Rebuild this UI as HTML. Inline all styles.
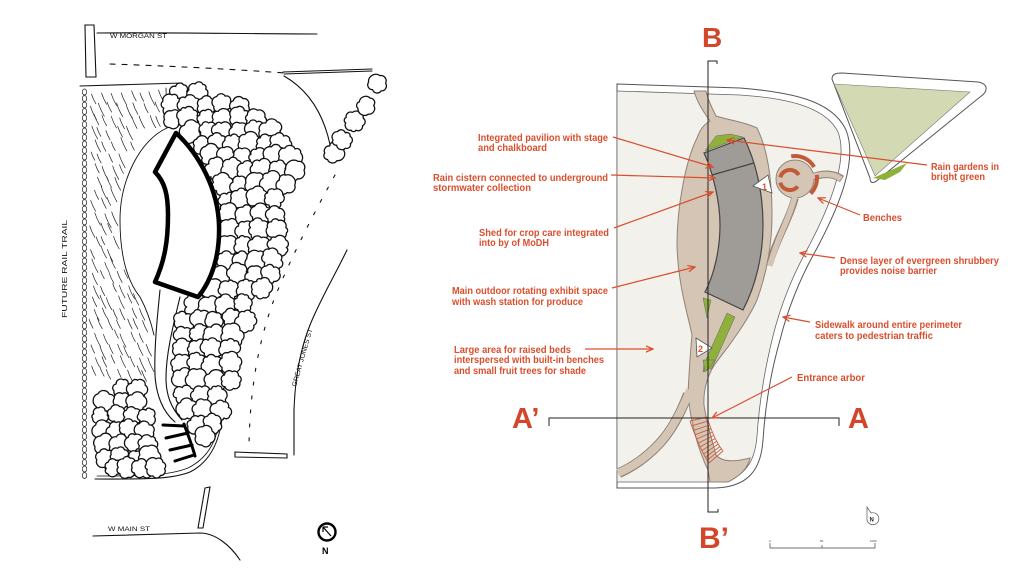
<!DOCTYPE html>
<html><head><meta charset="utf-8">
<style>
html,body{margin:0;padding:0;background:#fff;width:1024px;height:581px;overflow:hidden;}
svg{display:block;}
.lbl{font-family:"Liberation Sans",Arial,sans-serif;font-weight:bold;font-size:10px;fill:#d94f2e;}
.big{font-family:"Liberation Sans",Arial,sans-serif;font-weight:bold;fill:#d4462a;}
.hand{font-family:"Liberation Sans",Arial,sans-serif;font-size:6.5px;fill:#111;}
</style></head><body>
<svg width="1024" height="581" viewBox="0 0 1024 581" xmlns="http://www.w3.org/2000/svg">
<defs>
<marker id="ar" viewBox="0 0 10 10" refX="9" refY="5" markerWidth="8" markerHeight="8" markerUnits="userSpaceOnUse" orient="auto"><path d="M0,1 L9,5 L0,9" fill="none" stroke="#d94f2e" stroke-width="1.6"/></marker>
</defs>
<rect width="1024" height="581" fill="#fff"/>

<!-- ===== LEFT SKETCH ===== -->
<g id="hatch" fill="none" stroke="#222" stroke-width="0.7" stroke-linecap="round"></g>
<g id="scal" fill="none" stroke="#222" stroke-width="0.7"></g>
<g fill="none" stroke="#111" stroke-width="1.1" stroke-linecap="round">
<path d="M85,25 L94,25 L96,77 L86,77 Z"/>
<path d="M97,33 C160,32 250,34 317,34"/>
<path d="M110,64 C170,66 230,69 285,73" stroke-dasharray="5,7"/>
<path d="M283,72 L372,69 M284,74 L372,71"/>
<path d="M284,76 Q326,100 333,163"/>
<path d="M80,86 L182,83"/>
<path d="M166,88 L167,128" stroke-width="0.8"/>
<path d="M167,128 C140,140 120,180 120,220 C120,258 128,282 140,297 C147,310 151,322 154,335" stroke-width="0.9"/>
<path d="M160,290 C157,320 154,350 155,375 C156,395 163,412 175,422"/>
<path d="M180,297 C172,330 166,355 166,378 C166,395 171,408 182,420"/>
<path d="M223,405 C222,440 210,462 190,472 C170,480 140,479 95,479"/>
<path d="M220,410 C219,440 208,458 188,468 C168,476 140,476 97,476" stroke-width="0.8"/>
<path d="M347,250 C335,275 320,300 310,325 C300,350 295,380 294,410 L294,455"/>
<path d="M335,175 C310,220 285,270 272,305 C258,345 250,390 249,445" stroke-dasharray="3,11"/>
<path d="M235,452 L287,454 L287,458 L235,457 Z"/>
<path d="M205,488 L210,487 L203,528 L198,528 Z"/>
<path d="M93,536 L200,533 C215,533 230,545 240,560"/>
</g>
<g id="blobs" fill="#fff" stroke="#111" stroke-width="1.3" stroke-linejoin="round"></g>
<path d="M176,133 C200,155 218,190 219,225 C220,255 212,280 198,297 L155,282 C165,260 168,240 168,215 C168,195 165,182 155,172 Z" fill="#fff" stroke="#000" stroke-width="4.5" stroke-linejoin="round"/>
<g stroke="#000" stroke-width="3" stroke-linecap="round" fill="none">
<path d="M163,425 L184,426"/>
<path d="M166,438 L188,433"/>
<path d="M170,450 L192,445"/>
<path d="M175,461 L194,455"/>
<path d="M184,424 C188,435 192,445 195,456"/>
</g>
<text x="110" y="38" class="hand" textLength="57" lengthAdjust="spacingAndGlyphs">W MORGAN ST</text>
<text x="108" y="531" class="hand" textLength="42" lengthAdjust="spacingAndGlyphs">W MAIN ST</text>
<text transform="translate(296,387) rotate(-74)" class="hand" textLength="60" lengthAdjust="spacingAndGlyphs">GREAT JONES ST</text>
<text transform="translate(67,318) rotate(-90)" class="hand" style="font-size:7px" textLength="98" lengthAdjust="spacingAndGlyphs">FUTURE RAIL TRAIL</text>
<circle cx="327" cy="532" r="8.5" fill="none" stroke="#000" stroke-width="2.4"/>
<path d="M331,536 L323,527 M323,527 L323,532 M323,527 L328,527" stroke="#000" stroke-width="1.2" fill="none"/>
<text x="322" y="554" style="font-family:'Liberation Sans',sans-serif;font-weight:bold;font-size:9px" fill="#000">N</text>

<!-- ===== RIGHT PLAN ===== -->
<path d="M617,84 L740,88 C790,92 832,100 846,130 C858,160 840,205 816,250 C798,282 787,312 780,340 C770,375 765,410 763,440 C761,470 748,487 715,488 L617,488 Z" fill="#fff" stroke="#555" stroke-width="1"/>
<path d="M617,91 L740,95 C785,98 825,106 838,132 C848,158 832,202 809,246 C791,278 780,308 773,336 C764,372 759,406 757,436 C755,463 743,481 715,482 L617,482 Z" fill="#f2f1ec" stroke="#666" stroke-width="0.8"/>

<!-- triangle island -->
<path d="M832,79 C832,74 836,73 842,73 L978,82 C989,84 988,92 980,97 L880,178 C874,184 870,184 870,178 Z" fill="#fff" stroke="#555" stroke-width="1"/>
<path d="M834,84 L970,92 L875,176 C864,150 848,115 834,84 Z" fill="#d3dab3" stroke="#777" stroke-width="0.6"/>
<path d="M873,178 L880,175 L907,163 L900,172 L885,180 Z" fill="#8fb03a"/>

<!-- path outlines -->
<g fill="none" stroke="#8f8378" stroke-linecap="butt">
<path d="M770,262 C776,240 790,218 795,198" stroke-width="7.5"/>
<path d="M810,178 C822,173 833,173 842,179" stroke-width="7.5"/>
<path d="M688,394 C680,415 670,432 660,443 C648,456 635,466 619,473" stroke-width="10"/>
</g>
<path d="M694,91 C698,105 706,115 710,121 C703,125 700,130 697,138 C686,160 677,205 677,245 C678,285 688,315 692,335 C690,355 689,375 688,393 C690,420 698,450 708,470 L710,482 L728,482 C740,476 748,468 750,458 C735,462 722,462 716,455 C712,440 706,420 704,405 C703,390 708,372 718,360 C730,345 748,320 757,300 C766,275 772,245 772,215 C772,180 768,150 757,128 C745,122 728,120 716,116 C712,108 708,100 706,91 Z" fill="#d5c5b5" stroke="#8f8378" stroke-width="1"/>
<circle cx="795" cy="179" r="19" fill="#d5c5b5" stroke="#8f8378" stroke-width="1"/>
<g fill="none" stroke="#d5c5b5" stroke-linecap="butt">
<path d="M770,266 C776,240 790,218 795,196" stroke-width="5.5"/>
<path d="M808,178 C822,173 833,173 841,179" stroke-width="5.5"/>
<path d="M690,390 C680,415 670,432 660,443 C648,456 635,466 618,473" stroke-width="8"/>
</g>
<!-- benches -->
<g fill="none" stroke="#c25a38" stroke-width="4">
<path d="M798.7,175 A10,10 0 0,0 780.3,177.4"/>
<path d="M780.3,182.6 A10,10 0 0,0 797.7,186.4"/>
<path d="M791.2,156.3 A22,22 0 0,1 814.1,167"/>
<path d="M816.8,174.9 A22,22 0 0,1 810.6,193.6"/>
</g>

<!-- arbor -->
<g id="arbor" fill="none" stroke="#c8603e" stroke-width="0.9">
<path d="M690,421 Q699,448 709,463"/>
<path d="M707,417 Q714,440 723,451"/>
</g>

<!-- pavilion -->
<path d="M704,153 L744,138 C755,160 763,190 763,225 C763,255 756,285 743,310 L705,292 C714,275 720,250 720,225 C720,200 712,170 704,153 Z" fill="#9f9c97" stroke="#444" stroke-width="1.2"/>
<path d="M712,175 L754,163" stroke="#444" stroke-width="1.2"/>
<!-- green -->
<g fill="#8fb03a" stroke="#666" stroke-width="0.5">
<path d="M705,151 L716,136 L730,134 L743,137 Z"/>
<path d="M703,298 L711,300 L707,318 Z"/>
<path d="M727,313 L735,317 L712,368 L703,372 L704,364 Z"/>
<path d="M703,360 L715,360 L705,372 Z"/>
</g>
<!-- markers -->
<path d="M753,186 L768,175 L772,193 Z" fill="#fff" stroke="#555" stroke-width="0.8"/>
<text x="762" y="190" class="lbl" style="font-size:9px">1</text>
<path d="M696,338 L712,348 L697,357 Z" fill="#fff" stroke="#555" stroke-width="0.8"/>
<text x="698" y="352" class="lbl" style="font-size:9px">2</text>

<!-- section lines -->
<g fill="none" stroke="#222" stroke-width="1">
<path d="M717,64 L717,61 L708,61 L708,512 L718,512 L718,509"/>
<path d="M549,426 L549,418 L839,418 L839,426"/>
</g>
<text x="702" y="47" class="big" style="font-size:28px">B</text>
<text x="699" y="548" class="big" style="font-size:30px">B’</text>
<text x="512" y="428" class="big" style="font-size:29px">A’</text>
<text x="848" y="428" class="big" style="font-size:29px">A</text>

<!-- arrows -->
<g stroke="#d94f2e" stroke-width="1.2" fill="none" marker-end="url(#ar)">
<path d="M613,137 L713,167"/>
<path d="M611,175 L715,178"/>
<path d="M614,228 L713,192"/>
<path d="M612,288 L695,267"/>
<path d="M585,349 L653,349"/>
<path d="M927,165 L727,140"/>
<path d="M860,215 L818,198"/>
<path d="M835,258 L800,253"/>
<path d="M810,322 L783,317"/>
<path d="M792,377 L712,418"/>
</g>

<!-- labels -->
<text class="lbl" x="478" y="141" textLength="130" lengthAdjust="spacingAndGlyphs">Integrated pavilion with stage</text>
<text class="lbl" x="478" y="151" textLength="69" lengthAdjust="spacingAndGlyphs">and chalkboard</text>
<text class="lbl" x="433" y="181" textLength="175" lengthAdjust="spacingAndGlyphs">Rain cistern connected to underground</text>
<text class="lbl" x="433" y="191" textLength="98" lengthAdjust="spacingAndGlyphs">stormwater collection</text>
<text class="lbl" x="479" y="236" textLength="130" lengthAdjust="spacingAndGlyphs">Shed for crop care integrated</text>
<text class="lbl" x="479" y="246" textLength="70" lengthAdjust="spacingAndGlyphs">into by of MoDH</text>
<text class="lbl" x="452" y="294" textLength="156" lengthAdjust="spacingAndGlyphs">Main outdoor rotating exhibit space</text>
<text class="lbl" x="452" y="305" textLength="131" lengthAdjust="spacingAndGlyphs">with wash station for produce</text>
<text class="lbl" x="454" y="353" textLength="117" lengthAdjust="spacingAndGlyphs">Large area for raised beds</text>
<text class="lbl" x="454" y="363" textLength="150" lengthAdjust="spacingAndGlyphs">interspersed with built-in benches</text>
<text class="lbl" x="454" y="374" textLength="132" lengthAdjust="spacingAndGlyphs">and small fruit trees for shade</text>
<text class="lbl" x="931" y="170" textLength="68" lengthAdjust="spacingAndGlyphs">Rain gardens in</text>
<text class="lbl" x="931" y="180" textLength="54" lengthAdjust="spacingAndGlyphs">bright green</text>
<text class="lbl" x="863" y="221" textLength="39" lengthAdjust="spacingAndGlyphs">Benches</text>
<text class="lbl" x="840" y="264" textLength="159" lengthAdjust="spacingAndGlyphs">Dense layer of evergreen shrubbery</text>
<text class="lbl" x="840" y="274" textLength="97" lengthAdjust="spacingAndGlyphs">provides noise barrier</text>
<text class="lbl" x="815" y="328" textLength="147" lengthAdjust="spacingAndGlyphs">Sidewalk around entire perimeter</text>
<text class="lbl" x="815" y="339" textLength="118" lengthAdjust="spacingAndGlyphs">caters to pedestrian traffic</text>
<text class="lbl" x="797" y="381" textLength="68" lengthAdjust="spacingAndGlyphs">Entrance arbor</text>

<!-- scale bar & north -->
<g stroke="#444" stroke-width="0.7" fill="none">
<path d="M770,543 L770,548 L875,548 L875,543 M822,545 L822,548"/>
</g>
<text x="769" y="542" style="font-family:'Liberation Sans',sans-serif;font-size:3px" fill="#444">0</text>
<text x="820" y="542" style="font-family:'Liberation Sans',sans-serif;font-size:3px" fill="#444">50</text>
<text x="870" y="542" style="font-family:'Liberation Sans',sans-serif;font-size:3px" fill="#444">100ft</text>
<path d="M867,507 L871,513 A6,6 0 1,1 867,520 Z" fill="#fff" stroke="#555" stroke-width="0.7"/>
<text x="869.5" y="521.5" style="font-family:'Liberation Sans',sans-serif;font-weight:bold;font-size:6px" fill="#222">N</text>
</svg>
<script>
(function(){
var NS='http://www.w3.org/2000/svg';
var s=7;function R(){s=(s*16807)%2147483647;return (s-1)/2147483646;}
function el(tag,attrs,parent){var e=document.createElementNS(NS,tag);for(var k in attrs)e.setAttribute(k,attrs[k]);parent.appendChild(e);return e;}
var hg=document.getElementById('hatch');
var poly=[[89,90],[164,88],[165,128],[142,143],[124,178],[118,222],[122,265],[135,290],[150,305],[154,335],[155,380],[140,385],[98,385],[89,385]];
function inside(x,y){var c=false;for(var i=0,j=poly.length-1;i<poly.length;j=i++){var xi=poly[i][0],yi=poly[i][1],xj=poly[j][0],yj=poly[j][1];if(((yi>y)!=(yj>y))&&(x<(xj-xi)*(y-yi)/(yj-yi)+xi))c=!c;}return c;}
var row=0;
for(var y=92;y<385;y+=12){row++;for(var x=90;x<166;x+=9){var px=x+R()*5-2.5+(row%2)*4,py=y+R()*5-2.5;var L=8+R()*6;if(inside(px,py)&&inside(px+L*0.45,py+L)){el('path',{d:'M'+px.toFixed(1)+','+py.toFixed(1)+' q'+(L*0.15).toFixed(1)+','+(L*0.5).toFixed(1)+' '+(L*0.45).toFixed(1)+','+L.toFixed(1)},hg);}}}
var sg=document.getElementById('scal');
for(var yy=89;yy<474;yy+=6.5){el('ellipse',{cx:84.5,cy:(yy+3).toFixed(1),rx:2.2,ry:3},sg);}
var bg=document.getElementById('blobs');
function blob(cx,cy,r){var n=5+Math.floor(R()*3),a0=R()*6.283,pts=[];for(var i=0;i<n;i++){var a=a0+i*6.283/n+(R()-0.5)*0.5,rr=r*(0.82+R()*0.3);pts.push([cx+rr*Math.cos(a),cy+rr*Math.sin(a)]);}var d='M'+pts[0][0].toFixed(1)+','+pts[0][1].toFixed(1);for(var i=0;i<n;i++){var p=pts[i],q=pts[(i+1)%n],ch=Math.sqrt((q[0]-p[0])*(q[0]-p[0])+(q[1]-p[1])*(q[1]-p[1])),ar=ch*0.56;d+=' A'+ar.toFixed(1)+','+ar.toFixed(1)+' 0 0 1 '+q[0].toFixed(1)+','+q[1].toFixed(1);}el('path',{d:d+'Z'},bg);}
var rows=[[92,180,205],[105,174,240],[118,174,262],[131,192,275],[144,202,290],[157,210,293],[170,215,296],[185,223,292],[200,227,290],[215,229,287],[230,229,284],[245,229,281],[260,226,277],[275,221,271],[290,213,262],[305,194,255],[320,184,248],[335,182,242],[350,181,238],[365,181,235],[380,182,232],[395,184,230],[410,188,228],[424,196,222],[436,204,214]];
rows.forEach(function(r){var y=r[0];for(var x=r[1];x<=r[2];x+=16){blob(x+R()*4-2,y+R()*4-2,8.5+R()*2);}});
var rows2=[[388,122,148],[402,107,150],[416,101,152],[430,101,156],[444,103,158],[458,105,160],[468,112,158]];
rows2.forEach(function(r){var y=r[0];for(var x=r[1];x<=r[2];x+=15){blob(x+R()*4-2,y+R()*4-2,8+R()*1.8);}});
[[334,152],[343,140],[354,122],[366,106],[378,84]].forEach(function(c){blob(c[0],c[1],9);});
var ag=document.getElementById('arbor');
function qb(p0,p1,p2,t){var u=1-t;return [u*u*p0[0]+2*u*t*p1[0]+t*t*p2[0],u*u*p0[1]+2*u*t*p1[1]+t*t*p2[1]];}
for(var i=0;i<=11;i++){var t=i/11,a=qb([690,421],[699,448],[709,463],t),b=qb([707,417],[714,440],[723,451],t);el('line',{x1:a[0].toFixed(1),y1:a[1].toFixed(1),x2:b[0].toFixed(1),y2:b[1].toFixed(1)},ag);}
})();
</script>
</body></html>
